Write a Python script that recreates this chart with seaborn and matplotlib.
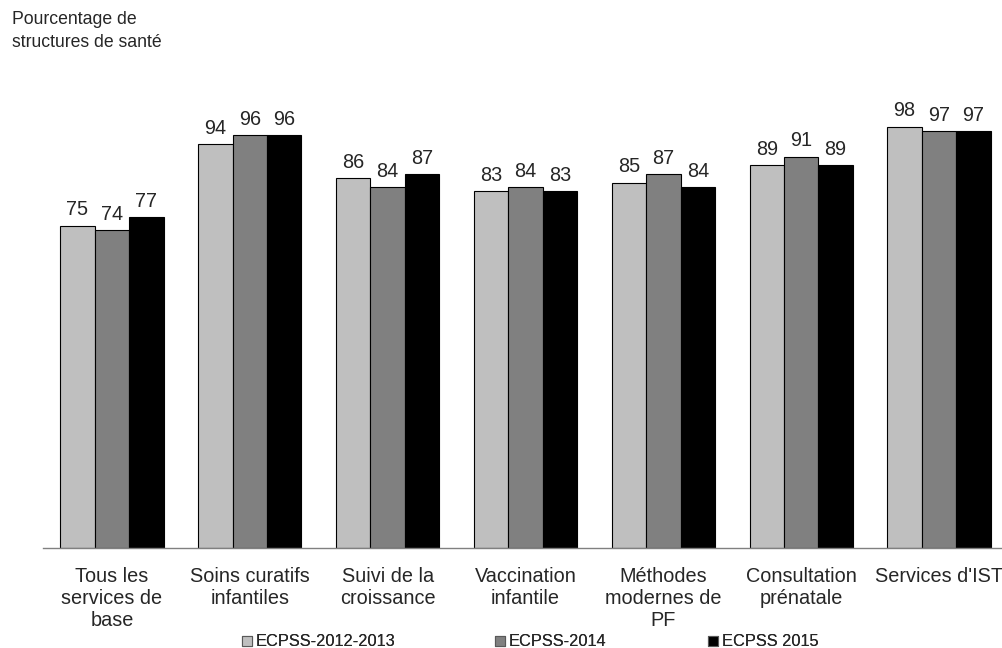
import matplotlib
matplotlib.use("Agg")
import matplotlib.pyplot as plt
import seaborn as sns
import pandas as pd
from matplotlib.patches import Patch

categories = ["Tous les\nservices de\nbase", "Soins curatifs\ninfantiles", "Suivi de la\ncroissance",
              "Vaccination\ninfantile", "Méthodes\nmodernes de\nPF", "Consultation\nprénatale",
              "Services d'IST"]
series_names = ["ECPSS-2012-2013", "ECPSS-2014", "ECPSS 2015"]
v2012 = [75, 94, 86, 83, 85, 89, 98]
v2014 = [74, 96, 84, 84, 87, 91, 97]
v2015 = [77, 96, 87, 83, 84, 89, 97]
colors = ["#bfbfbf", "#808080", "#000000"]

rows = []
for name, vals in zip(series_names, [v2012, v2014, v2015]):
    for c, v in zip(categories, vals):
        rows.append({"cat": c, "val": v, "serie": name})
df = pd.DataFrame(rows)

sns.set_style("white")
plt.rcParams['font.family'] = ['Liberation Sans', 'DejaVu Sans']

fig = plt.figure(figsize=(10.03, 6.48), dpi=100)
ax = fig.add_axes([43/1003, 100/648, 965/1003, 430/648])
sns.barplot(data=df, x="cat", y="val", hue="serie", palette=colors, saturation=1,
            edgecolor="black", linewidth=0.8, width=0.75, ax=ax, legend=False)
for cont in ax.containers:
    ax.bar_label(cont, fmt="%d", fontsize=14.3, padding=4.5)
ax.set_ylim(0, 100)
ax.set_xlim(-0.5, 6.5)
ax.set_yticks([])
ax.set_xlabel("")
ax.set_ylabel("")
for s in ["top", "right", "left"]:
    ax.spines[s].set_visible(False)
ax.spines["bottom"].set_color("#808080")
ax.spines["bottom"].set_linewidth(1)
ax.tick_params(axis="x", length=0, labelsize=14.3, pad=14)
for lbl in ax.get_xticklabels():
    lbl.set_linespacing(1.18)

fig.text(12/1003, 1 - 11/648, "Pourcentage de\nstructures de santé", fontsize=12.7,
         va="top", ha="left", linespacing=1.45)

xs = [242, 495, 708]
for c, name, x0 in zip(colors, series_names, xs):
    h = Patch(facecolor=c, edgecolor="#595959", linewidth=0.8)
    leg = fig.legend([h], [name], loc="center left", bbox_to_anchor=(x0/1003, 1 - 642/648),
                     frameon=False, fontsize=11.8, handlelength=0.6, handleheight=0.6,
                     handletextpad=0.25, borderpad=0, borderaxespad=0)
    fig.add_artist(leg)

fig.savefig("out.png", dpi=100)
